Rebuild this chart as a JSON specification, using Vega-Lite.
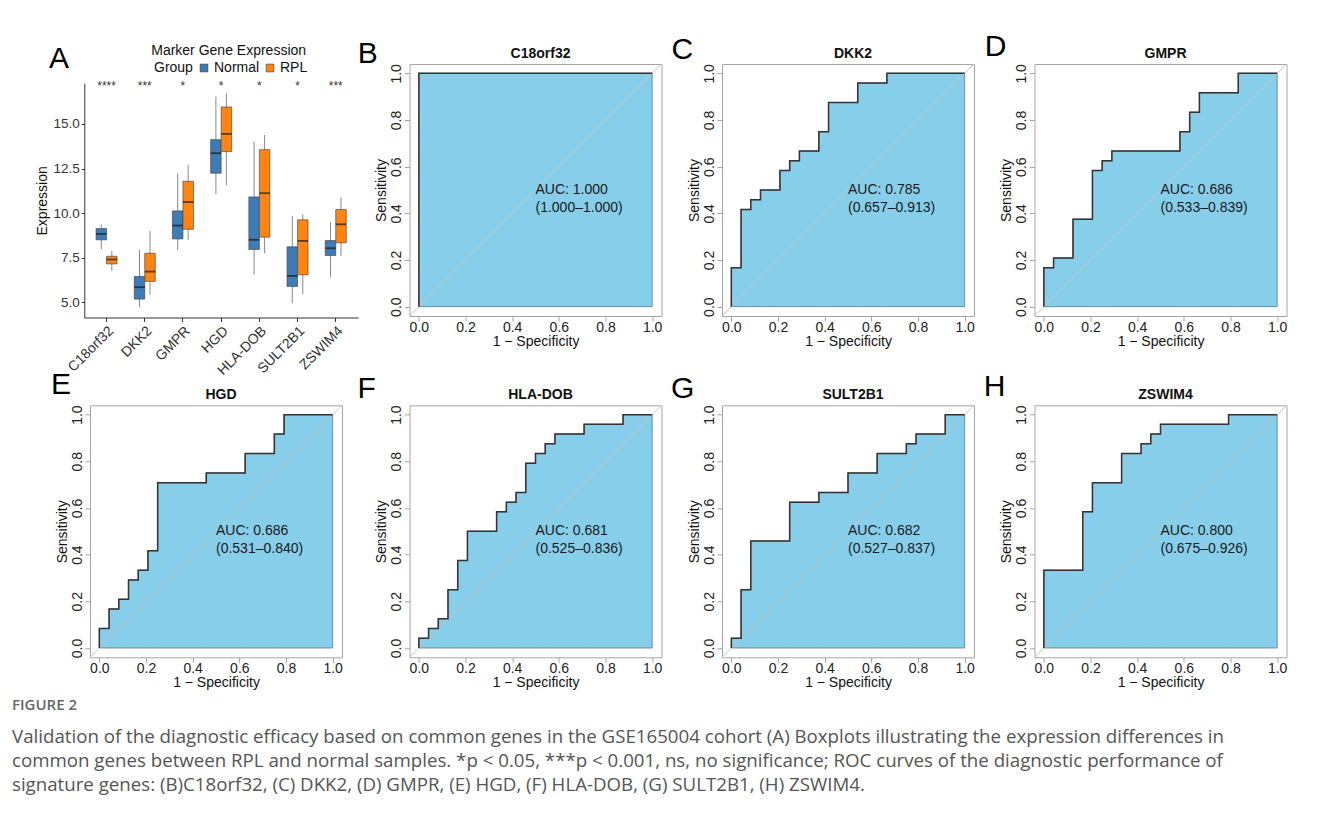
{
"$schema": "https://vega.github.io/schema/vega-lite/v6.json",
"background": "white",
"padding": {"left": 12, "top": 31, "right": 8, "bottom": 8},
"columns": 4,
"align": "each",
"bounds": "flush",
"spacing": {"row": 87.3, "column": 60.5},
"resolve": {"scale": {"x": "independent", "y": "independent"}},
"title": {"text": "FIGURE 2", "subtitle": ["Validation of the diagnostic efficacy based on common genes in the GSE165004 cohort (A) Boxplots illustrating the expression differences in", "common genes between RPL and normal samples. *p < 0.05, ***p < 0.001, ns, no significance; ROC curves of the diagnostic performance of", "signature genes: (B)C18orf32, (C) DKK2, (D) GMPR, (E) HGD, (F) HLA-DOB, (G) SULT2B1, (H) ZSWIM4."], "orient": "bottom", "anchor": "start", "frame": "group", "dx": -78, "offset": 8, "font": "Open Sans", "fontSize": 15, "fontWeight": 600, "color": "#666666", "subtitleFont": "Open Sans", "subtitleFontSize": 18.7, "subtitleColor": "#555555", "subtitleLineHeight": 24, "subtitlePadding": 15},
"datasets": {
"box": [
{"gene": "C18orf32", "group": "Normal", "lower": 7.99, "q1": 8.51, "median": 8.84, "q3": 9.14, "upper": 9.38},
{"gene": "C18orf32", "group": "RPL", "lower": 6.77, "q1": 7.16, "median": 7.41, "q3": 7.59, "upper": 7.89},
{"gene": "DKK2", "group": "Normal", "lower": 4.74, "q1": 5.19, "median": 5.86, "q3": 6.46, "upper": 7.95},
{"gene": "DKK2", "group": "RPL", "lower": 5.43, "q1": 6.18, "median": 6.73, "q3": 7.76, "upper": 9.01},
{"gene": "GMPR", "group": "Normal", "lower": 7.93, "q1": 8.56, "median": 9.31, "q3": 10.13, "upper": 12.24},
{"gene": "GMPR", "group": "RPL", "lower": 8.51, "q1": 9.1, "median": 10.63, "q3": 11.79, "upper": 12.71},
{"gene": "HGD", "group": "Normal", "lower": 11.06, "q1": 12.24, "median": 13.36, "q3": 14.12, "upper": 16.53},
{"gene": "HGD", "group": "RPL", "lower": 11.57, "q1": 13.45, "median": 14.44, "q3": 15.95, "upper": 16.7},
{"gene": "HLA-DOB", "group": "Normal", "lower": 6.55, "q1": 7.97, "median": 8.51, "q3": 10.91, "upper": 14.01},
{"gene": "HLA-DOB", "group": "RPL", "lower": 7.76, "q1": 8.66, "median": 11.12, "q3": 13.56, "upper": 14.38},
{"gene": "SULT2B1", "group": "Normal", "lower": 4.96, "q1": 5.9, "median": 6.49, "q3": 8.12, "upper": 9.85},
{"gene": "SULT2B1", "group": "RPL", "lower": 5.47, "q1": 6.55, "median": 8.45, "q3": 9.63, "upper": 9.94},
{"gene": "ZSWIM4", "group": "Normal", "lower": 6.4, "q1": 7.63, "median": 8.04, "q3": 8.47, "upper": 9.5},
{"gene": "ZSWIM4", "group": "RPL", "lower": 7.61, "q1": 8.34, "median": 9.38, "q3": 10.21, "upper": 10.88}
],
"stars": [
{"gene": "C18orf32", "sig": "****"}, {"gene": "DKK2", "sig": "***"}, {"gene": "GMPR", "sig": "*"}, {"gene": "HGD", "sig": "*"}, {"gene": "HLA-DOB", "sig": "*"}, {"gene": "SULT2B1", "sig": "*"}, {"gene": "ZSWIM4", "sig": "***"}
],
"auc": [
{"gene": "C18orf32", "letter": "B", "auc": "AUC: 1.000", "ci": "(1.000–1.000)"},
{"gene": "DKK2", "letter": "C", "auc": "AUC: 0.785", "ci": "(0.657–0.913)"},
{"gene": "GMPR", "letter": "D", "auc": "AUC: 0.686", "ci": "(0.533–0.839)"},
{"gene": "HGD", "letter": "E", "auc": "AUC: 0.686", "ci": "(0.531–0.840)"},
{"gene": "HLA-DOB", "letter": "F", "auc": "AUC: 0.681", "ci": "(0.525–0.836)"},
{"gene": "SULT2B1", "letter": "G", "auc": "AUC: 0.682", "ci": "(0.527–0.837)"},
{"gene": "ZSWIM4", "letter": "H", "auc": "AUC: 0.800", "ci": "(0.675–0.926)"}
],
"roc": [
{"gene": "C18orf32", "i": 0, "x": 0, "y": 0},
{"gene": "C18orf32", "i": 1, "x": 0, "y": 1},
{"gene": "C18orf32", "i": 2, "x": 1, "y": 1},
{"gene": "DKK2", "i": 0, "x": 0, "y": 0},
{"gene": "DKK2", "i": 1, "x": 0, "y": 0.1667},
{"gene": "DKK2", "i": 2, "x": 0.0417, "y": 0.1667},
{"gene": "DKK2", "i": 3, "x": 0.0417, "y": 0.4167},
{"gene": "DKK2", "i": 4, "x": 0.0833, "y": 0.4167},
{"gene": "DKK2", "i": 5, "x": 0.0833, "y": 0.4583},
{"gene": "DKK2", "i": 6, "x": 0.125, "y": 0.4583},
{"gene": "DKK2", "i": 7, "x": 0.125, "y": 0.5},
{"gene": "DKK2", "i": 8, "x": 0.2083, "y": 0.5},
{"gene": "DKK2", "i": 9, "x": 0.2083, "y": 0.5833},
{"gene": "DKK2", "i": 10, "x": 0.25, "y": 0.5833},
{"gene": "DKK2", "i": 11, "x": 0.25, "y": 0.625},
{"gene": "DKK2", "i": 12, "x": 0.2917, "y": 0.625},
{"gene": "DKK2", "i": 13, "x": 0.2917, "y": 0.6667},
{"gene": "DKK2", "i": 14, "x": 0.375, "y": 0.6667},
{"gene": "DKK2", "i": 15, "x": 0.375, "y": 0.75},
{"gene": "DKK2", "i": 16, "x": 0.4167, "y": 0.75},
{"gene": "DKK2", "i": 17, "x": 0.4167, "y": 0.875},
{"gene": "DKK2", "i": 18, "x": 0.5417, "y": 0.875},
{"gene": "DKK2", "i": 19, "x": 0.5417, "y": 0.9583},
{"gene": "DKK2", "i": 20, "x": 0.6667, "y": 0.9583},
{"gene": "DKK2", "i": 21, "x": 0.6667, "y": 1},
{"gene": "DKK2", "i": 22, "x": 1, "y": 1},
{"gene": "GMPR", "i": 0, "x": 0, "y": 0},
{"gene": "GMPR", "i": 1, "x": 0, "y": 0.1667},
{"gene": "GMPR", "i": 2, "x": 0.0417, "y": 0.1667},
{"gene": "GMPR", "i": 3, "x": 0.0417, "y": 0.2083},
{"gene": "GMPR", "i": 4, "x": 0.125, "y": 0.2083},
{"gene": "GMPR", "i": 5, "x": 0.125, "y": 0.375},
{"gene": "GMPR", "i": 6, "x": 0.2083, "y": 0.375},
{"gene": "GMPR", "i": 7, "x": 0.2083, "y": 0.5833},
{"gene": "GMPR", "i": 8, "x": 0.25, "y": 0.5833},
{"gene": "GMPR", "i": 9, "x": 0.25, "y": 0.625},
{"gene": "GMPR", "i": 10, "x": 0.2917, "y": 0.625},
{"gene": "GMPR", "i": 11, "x": 0.2917, "y": 0.6667},
{"gene": "GMPR", "i": 12, "x": 0.5833, "y": 0.6667},
{"gene": "GMPR", "i": 13, "x": 0.5833, "y": 0.75},
{"gene": "GMPR", "i": 14, "x": 0.625, "y": 0.75},
{"gene": "GMPR", "i": 15, "x": 0.625, "y": 0.8333},
{"gene": "GMPR", "i": 16, "x": 0.6667, "y": 0.8333},
{"gene": "GMPR", "i": 17, "x": 0.6667, "y": 0.9167},
{"gene": "GMPR", "i": 18, "x": 0.8333, "y": 0.9167},
{"gene": "GMPR", "i": 19, "x": 0.8333, "y": 1},
{"gene": "GMPR", "i": 20, "x": 1, "y": 1},
{"gene": "HGD", "i": 0, "x": 0, "y": 0},
{"gene": "HGD", "i": 1, "x": 0, "y": 0.0833},
{"gene": "HGD", "i": 2, "x": 0.0417, "y": 0.0833},
{"gene": "HGD", "i": 3, "x": 0.0417, "y": 0.1667},
{"gene": "HGD", "i": 4, "x": 0.0833, "y": 0.1667},
{"gene": "HGD", "i": 5, "x": 0.0833, "y": 0.2083},
{"gene": "HGD", "i": 6, "x": 0.125, "y": 0.2083},
{"gene": "HGD", "i": 7, "x": 0.125, "y": 0.2917},
{"gene": "HGD", "i": 8, "x": 0.1667, "y": 0.2917},
{"gene": "HGD", "i": 9, "x": 0.1667, "y": 0.3333},
{"gene": "HGD", "i": 10, "x": 0.2083, "y": 0.3333},
{"gene": "HGD", "i": 11, "x": 0.2083, "y": 0.4167},
{"gene": "HGD", "i": 12, "x": 0.25, "y": 0.4167},
{"gene": "HGD", "i": 13, "x": 0.25, "y": 0.7083},
{"gene": "HGD", "i": 14, "x": 0.4583, "y": 0.7083},
{"gene": "HGD", "i": 15, "x": 0.4583, "y": 0.75},
{"gene": "HGD", "i": 16, "x": 0.625, "y": 0.75},
{"gene": "HGD", "i": 17, "x": 0.625, "y": 0.8333},
{"gene": "HGD", "i": 18, "x": 0.75, "y": 0.8333},
{"gene": "HGD", "i": 19, "x": 0.75, "y": 0.9167},
{"gene": "HGD", "i": 20, "x": 0.7917, "y": 0.9167},
{"gene": "HGD", "i": 21, "x": 0.7917, "y": 1},
{"gene": "HGD", "i": 22, "x": 1, "y": 1},
{"gene": "HLA-DOB", "i": 0, "x": 0, "y": 0},
{"gene": "HLA-DOB", "i": 1, "x": 0, "y": 0.0417},
{"gene": "HLA-DOB", "i": 2, "x": 0.0417, "y": 0.0417},
{"gene": "HLA-DOB", "i": 3, "x": 0.0417, "y": 0.0833},
{"gene": "HLA-DOB", "i": 4, "x": 0.0833, "y": 0.0833},
{"gene": "HLA-DOB", "i": 5, "x": 0.0833, "y": 0.125},
{"gene": "HLA-DOB", "i": 6, "x": 0.125, "y": 0.125},
{"gene": "HLA-DOB", "i": 7, "x": 0.125, "y": 0.25},
{"gene": "HLA-DOB", "i": 8, "x": 0.1667, "y": 0.25},
{"gene": "HLA-DOB", "i": 9, "x": 0.1667, "y": 0.375},
{"gene": "HLA-DOB", "i": 10, "x": 0.2083, "y": 0.375},
{"gene": "HLA-DOB", "i": 11, "x": 0.2083, "y": 0.5},
{"gene": "HLA-DOB", "i": 12, "x": 0.3333, "y": 0.5},
{"gene": "HLA-DOB", "i": 13, "x": 0.3333, "y": 0.5833},
{"gene": "HLA-DOB", "i": 14, "x": 0.375, "y": 0.5833},
{"gene": "HLA-DOB", "i": 15, "x": 0.375, "y": 0.625},
{"gene": "HLA-DOB", "i": 16, "x": 0.4167, "y": 0.625},
{"gene": "HLA-DOB", "i": 17, "x": 0.4167, "y": 0.6667},
{"gene": "HLA-DOB", "i": 18, "x": 0.4583, "y": 0.6667},
{"gene": "HLA-DOB", "i": 19, "x": 0.4583, "y": 0.7917},
{"gene": "HLA-DOB", "i": 20, "x": 0.5, "y": 0.7917},
{"gene": "HLA-DOB", "i": 21, "x": 0.5, "y": 0.8333},
{"gene": "HLA-DOB", "i": 22, "x": 0.5417, "y": 0.8333},
{"gene": "HLA-DOB", "i": 23, "x": 0.5417, "y": 0.875},
{"gene": "HLA-DOB", "i": 24, "x": 0.5833, "y": 0.875},
{"gene": "HLA-DOB", "i": 25, "x": 0.5833, "y": 0.9167},
{"gene": "HLA-DOB", "i": 26, "x": 0.7083, "y": 0.9167},
{"gene": "HLA-DOB", "i": 27, "x": 0.7083, "y": 0.9583},
{"gene": "HLA-DOB", "i": 28, "x": 0.875, "y": 0.9583},
{"gene": "HLA-DOB", "i": 29, "x": 0.875, "y": 1},
{"gene": "HLA-DOB", "i": 30, "x": 1, "y": 1},
{"gene": "SULT2B1", "i": 0, "x": 0, "y": 0},
{"gene": "SULT2B1", "i": 1, "x": 0, "y": 0.0417},
{"gene": "SULT2B1", "i": 2, "x": 0.0417, "y": 0.0417},
{"gene": "SULT2B1", "i": 3, "x": 0.0417, "y": 0.25},
{"gene": "SULT2B1", "i": 4, "x": 0.0833, "y": 0.25},
{"gene": "SULT2B1", "i": 5, "x": 0.0833, "y": 0.4583},
{"gene": "SULT2B1", "i": 6, "x": 0.25, "y": 0.4583},
{"gene": "SULT2B1", "i": 7, "x": 0.25, "y": 0.625},
{"gene": "SULT2B1", "i": 8, "x": 0.375, "y": 0.625},
{"gene": "SULT2B1", "i": 9, "x": 0.375, "y": 0.6667},
{"gene": "SULT2B1", "i": 10, "x": 0.5, "y": 0.6667},
{"gene": "SULT2B1", "i": 11, "x": 0.5, "y": 0.75},
{"gene": "SULT2B1", "i": 12, "x": 0.625, "y": 0.75},
{"gene": "SULT2B1", "i": 13, "x": 0.625, "y": 0.8333},
{"gene": "SULT2B1", "i": 14, "x": 0.75, "y": 0.8333},
{"gene": "SULT2B1", "i": 15, "x": 0.75, "y": 0.875},
{"gene": "SULT2B1", "i": 16, "x": 0.7917, "y": 0.875},
{"gene": "SULT2B1", "i": 17, "x": 0.7917, "y": 0.9167},
{"gene": "SULT2B1", "i": 18, "x": 0.9167, "y": 0.9167},
{"gene": "SULT2B1", "i": 19, "x": 0.9167, "y": 1},
{"gene": "SULT2B1", "i": 20, "x": 1, "y": 1},
{"gene": "ZSWIM4", "i": 0, "x": 0, "y": 0},
{"gene": "ZSWIM4", "i": 1, "x": 0, "y": 0.3333},
{"gene": "ZSWIM4", "i": 2, "x": 0.1667, "y": 0.3333},
{"gene": "ZSWIM4", "i": 3, "x": 0.1667, "y": 0.5833},
{"gene": "ZSWIM4", "i": 4, "x": 0.2083, "y": 0.5833},
{"gene": "ZSWIM4", "i": 5, "x": 0.2083, "y": 0.7083},
{"gene": "ZSWIM4", "i": 6, "x": 0.3333, "y": 0.7083},
{"gene": "ZSWIM4", "i": 7, "x": 0.3333, "y": 0.8333},
{"gene": "ZSWIM4", "i": 8, "x": 0.4167, "y": 0.8333},
{"gene": "ZSWIM4", "i": 9, "x": 0.4167, "y": 0.875},
{"gene": "ZSWIM4", "i": 10, "x": 0.4583, "y": 0.875},
{"gene": "ZSWIM4", "i": 11, "x": 0.4583, "y": 0.9167},
{"gene": "ZSWIM4", "i": 12, "x": 0.5, "y": 0.9167},
{"gene": "ZSWIM4", "i": 13, "x": 0.5, "y": 0.9583},
{"gene": "ZSWIM4", "i": 14, "x": 0.7917, "y": 0.9583},
{"gene": "ZSWIM4", "i": 15, "x": 0.7917, "y": 1},
{"gene": "ZSWIM4", "i": 16, "x": 1, "y": 1}
]
},
"concat": [
{
"width": 259, "height": 253.5,
"view": {"stroke": null},
"layer": [
{"data": {"name": "box"}, "mark": {"type": "rule", "color": "#8a8a8a", "strokeWidth": 1},
"encoding": {
"x": {"field": "gene", "type": "nominal", "sort": null, "title": null, "scale": {"range": [-5.7, 268], "paddingInner": 0.4503, "paddingOuter": 0.3077}, "axis": {"domain": true, "domainColor": "#333333", "tickColor": "#333333", "tickSize": 4, "labelAngle": -45, "labelAlign": "right", "labelBaseline": "top", "labelFontSize": 14, "labelColor": "#333333", "labelPadding": 2}},
"xOffset": {"field": "group", "type": "nominal", "scale": {"paddingInner": 0, "paddingOuter": 0}},
"y": {"field": "lower", "type": "quantitative", "title": "Expression", "scale": {"domain": [4.16, 17.28], "range": [253.5, 19.2], "nice": false, "zero": false}, "axis": {"values": [5, 7.5, 10, 12.5, 15], "format": ".1f", "offset": 5.7, "domain": true, "domainColor": "#333333", "tickColor": "#333333", "tickSize": 3, "labelAngle": 0, "labelAlign": "right", "labelBaseline": "middle", "labelPadding": 2, "labelFontSize": 13.5, "labelColor": "#333333", "titlePadding": 4}},
"y2": {"field": "upper"}}},
{"data": {"name": "box"}, "mark": {"type": "bar", "stroke": "#3a3a3a", "strokeWidth": 0.6},
"encoding": {
"x": {"field": "gene", "type": "nominal", "sort": null},
"xOffset": {"field": "group", "type": "nominal"},
"y": {"field": "q1", "type": "quantitative"},
"y2": {"field": "q3"},
"color": {"field": "group", "type": "nominal", "scale": {"domain": ["Normal", "RPL"], "range": ["#3E7CB6", "#FF8412"]}, "legend": {"orient": "none", "legendX": 64, "legendY": -3, "direction": "horizontal", "title": "Group", "titleOrient": "left", "titleFontSize": 14, "titleFontWeight": "normal", "titleColor": "#111111", "labelFontSize": 14, "labelColor": "#111111", "symbolType": "square", "symbolSize": 60, "symbolStrokeColor": "#333333", "symbolStrokeWidth": 0.6, "columnPadding": 3, "labelOffset": 3, "titlePadding": 4}}}},
{"data": {"name": "box"}, "mark": {"type": "tick", "color": "#1a1a1a", "thickness": 1.8, "size": 10.5},
"encoding": {
"x": {"field": "gene", "type": "nominal", "sort": null},
"xOffset": {"field": "group", "type": "nominal"},
"y": {"field": "median", "type": "quantitative"}}},
{"data": {"name": "stars"}, "mark": {"type": "text", "fontSize": 12, "color": "#333333", "baseline": "middle"},
"encoding": {"x": {"field": "gene", "type": "nominal", "sort": null}, "y": {"datum": 17.1}, "text": {"field": "sig"}}},
{"data": {"values": [{"letter": "A", "heading": "Marker Gene Expression"}]}, "mark": {"type": "text", "fontSize": 30, "dx": -47.5, "baseline": "middle", "color": "#000000"},
"encoding": {"x": {"datum": "C18orf32"}, "y": {"datum": 18.66}, "text": {"field": "letter"}}},
{"data": {"values": [{"letter": "A", "heading": "Marker Gene Expression"}]}, "mark": {"type": "text", "fontSize": 14, "dx": 7.5, "baseline": "middle", "align": "center", "color": "#111111"},
"encoding": {"x": {"datum": "HGD"}, "y": {"datum": 19.11}, "text": {"field": "heading"}}}
]
},
{
"width": 252, "height": 252,
"data": {"name": "auc"}, "transform": [{"filter": "datum.gene === 'C18orf32'"}],
"layer": [
{"data": {"name": "roc"}, "transform": [{"filter": "datum.gene === 'C18orf32'"}], "mark": {"type": "area", "color": "#87CEEB", "stroke": "#6f8d9c", "strokeWidth": 1},
"encoding": {"x": {"field": "x", "type": "quantitative", "scale": {"domain": [-0.04, 1.04], "nice": false, "zero": false}, "axis": {"values": [0, 0.2, 0.4, 0.6, 0.8, 1], "format": ".1f", "title": "1 − Specificity"}}, "y": {"field": "y", "type": "quantitative", "scale": {"domain": [-0.04, 1.04], "nice": false, "zero": false}, "axis": {"values": [0, 0.2, 0.4, 0.6, 0.8, 1], "format": ".1f", "title": "Sensitivity"}}, "y2": {"datum": 0}}},
{"mark": {"type": "rule", "color": "#c4c4c4", "strokeWidth": 1}, "encoding": {"x": {"datum": -0.04}, "x2": {"datum": 1.04}, "y": {"datum": -0.04}, "y2": {"datum": 1.04}}},
{"data": {"name": "roc"}, "transform": [{"filter": "datum.gene === 'C18orf32'"}], "mark": {"type": "line", "color": "#333333", "strokeWidth": 1.5}, "encoding": {"x": {"field": "x", "type": "quantitative"}, "y": {"field": "y", "type": "quantitative"}, "order": {"field": "i"}}},
{"mark": {"type": "text", "align": "left", "baseline": "middle", "fontSize": 14, "color": "#1a1a1a"}, "encoding": {"x": {"datum": 0.5}, "y": {"datum": 0.5}, "text": {"field": "auc"}}},
{"mark": {"type": "text", "align": "left", "baseline": "middle", "fontSize": 14, "color": "#1a1a1a"}, "encoding": {"x": {"datum": 0.5}, "y": {"datum": 0.425}, "text": {"field": "ci"}}},
{"mark": {"type": "text", "align": "center", "baseline": "alphabetic", "fontSize": 14, "fontWeight": "bold", "color": "#111111", "dx": 5}, "encoding": {"x": {"datum": 0.5}, "y": {"datum": 1.066}, "text": {"field": "gene"}}},
{"mark": {"type": "text", "align": "center", "baseline": "middle", "fontSize": 30, "color": "#000000"}, "encoding": {"x": {"datum": -0.219}, "y": {"datum": 1.085}, "text": {"field": "letter"}}}
]
},
{
"width": 252, "height": 252,
"data": {"name": "auc"}, "transform": [{"filter": "datum.gene === 'DKK2'"}],
"layer": [
{"data": {"name": "roc"}, "transform": [{"filter": "datum.gene === 'DKK2'"}], "mark": {"type": "area", "color": "#87CEEB", "stroke": "#6f8d9c", "strokeWidth": 1},
"encoding": {"x": {"field": "x", "type": "quantitative", "scale": {"domain": [-0.04, 1.04], "nice": false, "zero": false}, "axis": {"values": [0, 0.2, 0.4, 0.6, 0.8, 1], "format": ".1f", "title": "1 − Specificity"}}, "y": {"field": "y", "type": "quantitative", "scale": {"domain": [-0.04, 1.04], "nice": false, "zero": false}, "axis": {"values": [0, 0.2, 0.4, 0.6, 0.8, 1], "format": ".1f", "title": "Sensitivity"}}, "y2": {"datum": 0}}},
{"mark": {"type": "rule", "color": "#c4c4c4", "strokeWidth": 1}, "encoding": {"x": {"datum": -0.04}, "x2": {"datum": 1.04}, "y": {"datum": -0.04}, "y2": {"datum": 1.04}}},
{"data": {"name": "roc"}, "transform": [{"filter": "datum.gene === 'DKK2'"}], "mark": {"type": "line", "color": "#333333", "strokeWidth": 1.5}, "encoding": {"x": {"field": "x", "type": "quantitative"}, "y": {"field": "y", "type": "quantitative"}, "order": {"field": "i"}}},
{"mark": {"type": "text", "align": "left", "baseline": "middle", "fontSize": 14, "color": "#1a1a1a"}, "encoding": {"x": {"datum": 0.5}, "y": {"datum": 0.5}, "text": {"field": "auc"}}},
{"mark": {"type": "text", "align": "left", "baseline": "middle", "fontSize": 14, "color": "#1a1a1a"}, "encoding": {"x": {"datum": 0.5}, "y": {"datum": 0.425}, "text": {"field": "ci"}}},
{"mark": {"type": "text", "align": "center", "baseline": "alphabetic", "fontSize": 14, "fontWeight": "bold", "color": "#111111", "dx": 5}, "encoding": {"x": {"datum": 0.5}, "y": {"datum": 1.066}, "text": {"field": "gene"}}},
{"mark": {"type": "text", "align": "center", "baseline": "middle", "fontSize": 30, "color": "#000000"}, "encoding": {"x": {"datum": -0.21}, "y": {"datum": 1.102}, "text": {"field": "letter"}}}
]
},
{
"width": 252, "height": 252,
"data": {"name": "auc"}, "transform": [{"filter": "datum.gene === 'GMPR'"}],
"layer": [
{"data": {"name": "roc"}, "transform": [{"filter": "datum.gene === 'GMPR'"}], "mark": {"type": "area", "color": "#87CEEB", "stroke": "#6f8d9c", "strokeWidth": 1},
"encoding": {"x": {"field": "x", "type": "quantitative", "scale": {"domain": [-0.04, 1.04], "nice": false, "zero": false}, "axis": {"values": [0, 0.2, 0.4, 0.6, 0.8, 1], "format": ".1f", "title": "1 − Specificity"}}, "y": {"field": "y", "type": "quantitative", "scale": {"domain": [-0.04, 1.04], "nice": false, "zero": false}, "axis": {"values": [0, 0.2, 0.4, 0.6, 0.8, 1], "format": ".1f", "title": "Sensitivity"}}, "y2": {"datum": 0}}},
{"mark": {"type": "rule", "color": "#c4c4c4", "strokeWidth": 1}, "encoding": {"x": {"datum": -0.04}, "x2": {"datum": 1.04}, "y": {"datum": -0.04}, "y2": {"datum": 1.04}}},
{"data": {"name": "roc"}, "transform": [{"filter": "datum.gene === 'GMPR'"}], "mark": {"type": "line", "color": "#333333", "strokeWidth": 1.5}, "encoding": {"x": {"field": "x", "type": "quantitative"}, "y": {"field": "y", "type": "quantitative"}, "order": {"field": "i"}}},
{"mark": {"type": "text", "align": "left", "baseline": "middle", "fontSize": 14, "color": "#1a1a1a"}, "encoding": {"x": {"datum": 0.5}, "y": {"datum": 0.5}, "text": {"field": "auc"}}},
{"mark": {"type": "text", "align": "left", "baseline": "middle", "fontSize": 14, "color": "#1a1a1a"}, "encoding": {"x": {"datum": 0.5}, "y": {"datum": 0.425}, "text": {"field": "ci"}}},
{"mark": {"type": "text", "align": "center", "baseline": "alphabetic", "fontSize": 14, "fontWeight": "bold", "color": "#111111", "dx": 5}, "encoding": {"x": {"datum": 0.5}, "y": {"datum": 1.066}, "text": {"field": "gene"}}},
{"mark": {"type": "text", "align": "center", "baseline": "middle", "fontSize": 30, "color": "#000000"}, "encoding": {"x": {"datum": -0.207}, "y": {"datum": 1.111}, "text": {"field": "letter"}}}
]
},
{
"width": 252, "height": 252,
"data": {"name": "auc"}, "transform": [{"filter": "datum.gene === 'HGD'"}],
"layer": [
{"data": {"name": "roc"}, "transform": [{"filter": "datum.gene === 'HGD'"}], "mark": {"type": "area", "color": "#87CEEB", "stroke": "#6f8d9c", "strokeWidth": 1},
"encoding": {"x": {"field": "x", "type": "quantitative", "scale": {"domain": [-0.04, 1.04], "nice": false, "zero": false}, "axis": {"values": [0, 0.2, 0.4, 0.6, 0.8, 1], "format": ".1f", "title": "1 − Specificity"}}, "y": {"field": "y", "type": "quantitative", "scale": {"domain": [-0.04, 1.04], "nice": false, "zero": false}, "axis": {"values": [0, 0.2, 0.4, 0.6, 0.8, 1], "format": ".1f", "title": "Sensitivity"}}, "y2": {"datum": 0}}},
{"mark": {"type": "rule", "color": "#c4c4c4", "strokeWidth": 1}, "encoding": {"x": {"datum": -0.04}, "x2": {"datum": 1.04}, "y": {"datum": -0.04}, "y2": {"datum": 1.04}}},
{"data": {"name": "roc"}, "transform": [{"filter": "datum.gene === 'HGD'"}], "mark": {"type": "line", "color": "#333333", "strokeWidth": 1.5}, "encoding": {"x": {"field": "x", "type": "quantitative"}, "y": {"field": "y", "type": "quantitative"}, "order": {"field": "i"}}},
{"mark": {"type": "text", "align": "left", "baseline": "middle", "fontSize": 14, "color": "#1a1a1a"}, "encoding": {"x": {"datum": 0.5}, "y": {"datum": 0.5}, "text": {"field": "auc"}}},
{"mark": {"type": "text", "align": "left", "baseline": "middle", "fontSize": 14, "color": "#1a1a1a"}, "encoding": {"x": {"datum": 0.5}, "y": {"datum": 0.425}, "text": {"field": "ci"}}},
{"mark": {"type": "text", "align": "center", "baseline": "alphabetic", "fontSize": 14, "fontWeight": "bold", "color": "#111111", "dx": 5}, "encoding": {"x": {"datum": 0.5}, "y": {"datum": 1.066}, "text": {"field": "gene"}}},
{"mark": {"type": "text", "align": "center", "baseline": "middle", "fontSize": 30, "color": "#000000"}, "encoding": {"x": {"datum": -0.164}, "y": {"datum": 1.127}, "text": {"field": "letter"}}}
]
},
{
"width": 252, "height": 252,
"data": {"name": "auc"}, "transform": [{"filter": "datum.gene === 'HLA-DOB'"}],
"layer": [
{"data": {"name": "roc"}, "transform": [{"filter": "datum.gene === 'HLA-DOB'"}], "mark": {"type": "area", "color": "#87CEEB", "stroke": "#6f8d9c", "strokeWidth": 1},
"encoding": {"x": {"field": "x", "type": "quantitative", "scale": {"domain": [-0.04, 1.04], "nice": false, "zero": false}, "axis": {"values": [0, 0.2, 0.4, 0.6, 0.8, 1], "format": ".1f", "title": "1 − Specificity"}}, "y": {"field": "y", "type": "quantitative", "scale": {"domain": [-0.04, 1.04], "nice": false, "zero": false}, "axis": {"values": [0, 0.2, 0.4, 0.6, 0.8, 1], "format": ".1f", "title": "Sensitivity"}}, "y2": {"datum": 0}}},
{"mark": {"type": "rule", "color": "#c4c4c4", "strokeWidth": 1}, "encoding": {"x": {"datum": -0.04}, "x2": {"datum": 1.04}, "y": {"datum": -0.04}, "y2": {"datum": 1.04}}},
{"data": {"name": "roc"}, "transform": [{"filter": "datum.gene === 'HLA-DOB'"}], "mark": {"type": "line", "color": "#333333", "strokeWidth": 1.5}, "encoding": {"x": {"field": "x", "type": "quantitative"}, "y": {"field": "y", "type": "quantitative"}, "order": {"field": "i"}}},
{"mark": {"type": "text", "align": "left", "baseline": "middle", "fontSize": 14, "color": "#1a1a1a"}, "encoding": {"x": {"datum": 0.5}, "y": {"datum": 0.5}, "text": {"field": "auc"}}},
{"mark": {"type": "text", "align": "left", "baseline": "middle", "fontSize": 14, "color": "#1a1a1a"}, "encoding": {"x": {"datum": 0.5}, "y": {"datum": 0.425}, "text": {"field": "ci"}}},
{"mark": {"type": "text", "align": "center", "baseline": "alphabetic", "fontSize": 14, "fontWeight": "bold", "color": "#111111", "dx": 5}, "encoding": {"x": {"datum": 0.5}, "y": {"datum": 1.066}, "text": {"field": "gene"}}},
{"mark": {"type": "text", "align": "center", "baseline": "middle", "fontSize": 30, "color": "#000000"}, "encoding": {"x": {"datum": -0.224}, "y": {"datum": 1.111}, "text": {"field": "letter"}}}
]
},
{
"width": 252, "height": 252,
"data": {"name": "auc"}, "transform": [{"filter": "datum.gene === 'SULT2B1'"}],
"layer": [
{"data": {"name": "roc"}, "transform": [{"filter": "datum.gene === 'SULT2B1'"}], "mark": {"type": "area", "color": "#87CEEB", "stroke": "#6f8d9c", "strokeWidth": 1},
"encoding": {"x": {"field": "x", "type": "quantitative", "scale": {"domain": [-0.04, 1.04], "nice": false, "zero": false}, "axis": {"values": [0, 0.2, 0.4, 0.6, 0.8, 1], "format": ".1f", "title": "1 − Specificity"}}, "y": {"field": "y", "type": "quantitative", "scale": {"domain": [-0.04, 1.04], "nice": false, "zero": false}, "axis": {"values": [0, 0.2, 0.4, 0.6, 0.8, 1], "format": ".1f", "title": "Sensitivity"}}, "y2": {"datum": 0}}},
{"mark": {"type": "rule", "color": "#c4c4c4", "strokeWidth": 1}, "encoding": {"x": {"datum": -0.04}, "x2": {"datum": 1.04}, "y": {"datum": -0.04}, "y2": {"datum": 1.04}}},
{"data": {"name": "roc"}, "transform": [{"filter": "datum.gene === 'SULT2B1'"}], "mark": {"type": "line", "color": "#333333", "strokeWidth": 1.5}, "encoding": {"x": {"field": "x", "type": "quantitative"}, "y": {"field": "y", "type": "quantitative"}, "order": {"field": "i"}}},
{"mark": {"type": "text", "align": "left", "baseline": "middle", "fontSize": 14, "color": "#1a1a1a"}, "encoding": {"x": {"datum": 0.5}, "y": {"datum": 0.5}, "text": {"field": "auc"}}},
{"mark": {"type": "text", "align": "left", "baseline": "middle", "fontSize": 14, "color": "#1a1a1a"}, "encoding": {"x": {"datum": 0.5}, "y": {"datum": 0.425}, "text": {"field": "ci"}}},
{"mark": {"type": "text", "align": "center", "baseline": "alphabetic", "fontSize": 14, "fontWeight": "bold", "color": "#111111", "dx": 5}, "encoding": {"x": {"datum": 0.5}, "y": {"datum": 1.066}, "text": {"field": "gene"}}},
{"mark": {"type": "text", "align": "center", "baseline": "middle", "fontSize": 30, "color": "#000000"}, "encoding": {"x": {"datum": -0.209}, "y": {"datum": 1.108}, "text": {"field": "letter"}}}
]
},
{
"width": 252, "height": 252,
"data": {"name": "auc"}, "transform": [{"filter": "datum.gene === 'ZSWIM4'"}],
"layer": [
{"data": {"name": "roc"}, "transform": [{"filter": "datum.gene === 'ZSWIM4'"}], "mark": {"type": "area", "color": "#87CEEB", "stroke": "#6f8d9c", "strokeWidth": 1},
"encoding": {"x": {"field": "x", "type": "quantitative", "scale": {"domain": [-0.04, 1.04], "nice": false, "zero": false}, "axis": {"values": [0, 0.2, 0.4, 0.6, 0.8, 1], "format": ".1f", "title": "1 − Specificity"}}, "y": {"field": "y", "type": "quantitative", "scale": {"domain": [-0.04, 1.04], "nice": false, "zero": false}, "axis": {"values": [0, 0.2, 0.4, 0.6, 0.8, 1], "format": ".1f", "title": "Sensitivity"}}, "y2": {"datum": 0}}},
{"mark": {"type": "rule", "color": "#c4c4c4", "strokeWidth": 1}, "encoding": {"x": {"datum": -0.04}, "x2": {"datum": 1.04}, "y": {"datum": -0.04}, "y2": {"datum": 1.04}}},
{"data": {"name": "roc"}, "transform": [{"filter": "datum.gene === 'ZSWIM4'"}], "mark": {"type": "line", "color": "#333333", "strokeWidth": 1.5}, "encoding": {"x": {"field": "x", "type": "quantitative"}, "y": {"field": "y", "type": "quantitative"}, "order": {"field": "i"}}},
{"mark": {"type": "text", "align": "left", "baseline": "middle", "fontSize": 14, "color": "#1a1a1a"}, "encoding": {"x": {"datum": 0.5}, "y": {"datum": 0.5}, "text": {"field": "auc"}}},
{"mark": {"type": "text", "align": "left", "baseline": "middle", "fontSize": 14, "color": "#1a1a1a"}, "encoding": {"x": {"datum": 0.5}, "y": {"datum": 0.425}, "text": {"field": "ci"}}},
{"mark": {"type": "text", "align": "center", "baseline": "alphabetic", "fontSize": 14, "fontWeight": "bold", "color": "#111111", "dx": 5}, "encoding": {"x": {"datum": 0.5}, "y": {"datum": 1.066}, "text": {"field": "gene"}}},
{"mark": {"type": "text", "align": "center", "baseline": "middle", "fontSize": 30, "color": "#000000"}, "encoding": {"x": {"datum": -0.211}, "y": {"datum": 1.118}, "text": {"field": "letter"}}}
]
}
],
"config": {
"font": "Liberation Sans",
"view": {"stroke": "#a6a6a6", "strokeWidth": 1},
"axis": {"domain": false, "grid": false, "tickColor": "#a6a6a6", "tickSize": 5, "labelFontSize": 14, "labelColor": "#222222", "titleFontSize": 14, "titleFontWeight": "normal", "titleColor": "#111111", "labelFlush": false, "labelPadding": -1},
"axisX": {"titlePadding": 0},
"axisY": {"labelAngle": 270, "labelAlign": "center", "labelBaseline": "bottom", "labelPadding": 1, "titlePadding": 1}
}
}
